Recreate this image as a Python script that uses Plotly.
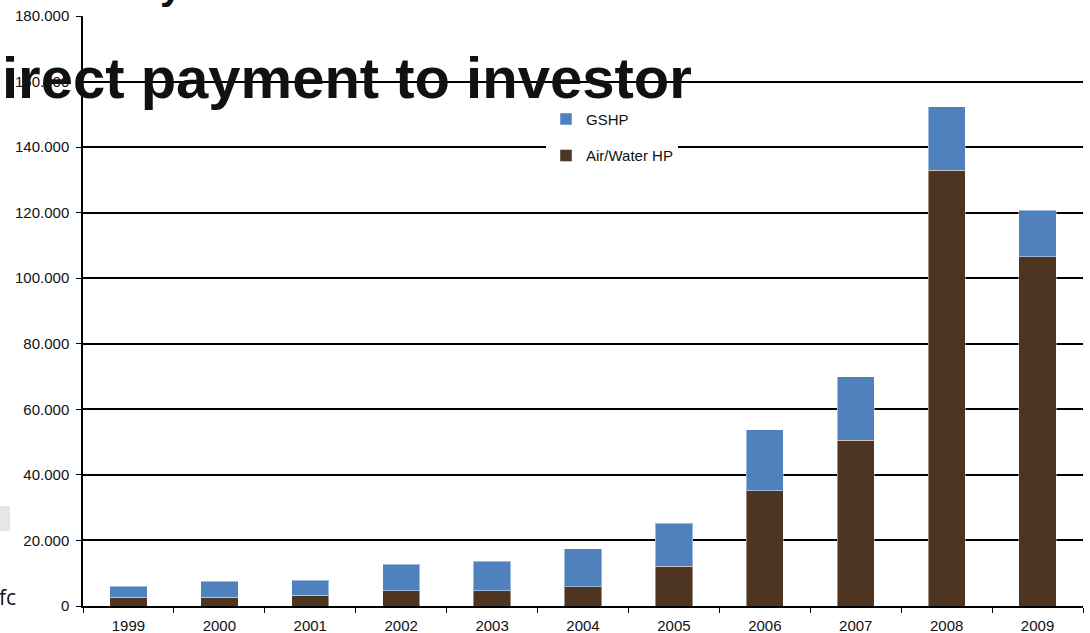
import plotly.graph_objects as go

years = ["1999", "2000", "2001", "2002", "2003", "2004", "2005", "2006", "2007", "2008", "2009"]
air_water = [2700, 2700, 3300, 4700, 4600, 5800, 12200, 35100, 50600, 132900, 106600]
total = [6100, 7500, 7900, 12700, 13700, 17400, 25300, 53700, 69900, 152300, 120800]
gshp = [t - a for t, a in zip(total, air_water)]
y_ticks = [0, 20000, 40000, 60000, 80000, 100000, 120000, 140000, 160000, 180000]

FONT = "Liberation Sans, Arial, Helvetica, sans-serif"

fig = go.Figure()
fig.add_trace(go.Bar(x=years, y=air_water, name="Air/Water HP", legendgroup="a", legendrank=2,
                     marker=dict(color="#4D3521", line=dict(color="rgba(255,255,255,0.45)", width=1))))
fig.add_trace(go.Bar(x=years, y=gshp, name="GSHP", legendgroup="b", legendrank=1,
                     marker=dict(color="#4F81BD", line=dict(color="rgba(255,255,255,0.45)", width=1))))

fig.update_layout(
    barmode="stack",
    bargap=0.59,
    width=1090, height=633,
    margin=dict(l=83, r=7, t=16, b=27, autoexpand=False),
    paper_bgcolor="white", plot_bgcolor="white",
    separators=",.",
    font=dict(family=FONT, size=15, color="#111111"),
    showlegend=True,
    legend=dict(x=0.463, y=0.853, xanchor="left", yanchor="top",
                bgcolor="white", traceorder="grouped", tracegroupgap=14,
                font=dict(size=15, color="#111111"), itemwidth=30),
    xaxis=dict(type="category", showline=True, linecolor="black", linewidth=1.5,
               ticks="outside", tickson="boundaries", ticklen=5, tickcolor="black",
               showgrid=False, tickfont=dict(size=15), ticklabelstandoff=5, automargin=False),
    yaxis=dict(range=[0, 180000], tickvals=y_ticks, tickformat=",d",
               showline=True, linecolor="black", linewidth=1.5,
               ticks="outside", ticklen=5, tickcolor="black",
               showgrid=True, gridcolor="black", gridwidth=1.5,
               zeroline=False, tickfont=dict(size=15), ticklabelstandoff=4, automargin=False),
)

fig.add_annotation(text="<b>irect payment to investor</b>", xref="paper", yref="paper",
                   x=-83/1000, y=(606-112)/590, xanchor="left", yanchor="bottom",
                   showarrow=False, font=dict(family=FONT, size=58, color="#111111"))
fig.add_annotation(text="<b>y</b>", xref="paper", yref="paper",
                   x=(158-83)/1000, y=(606-9)/590, xanchor="left", yanchor="bottom",
                   showarrow=False, font=dict(family=FONT, size=40, color="#111111"))
fig.add_annotation(text="fc", xref="paper", yref="paper", x=-86/1000, y=(606-613)/590,
                   xanchor="left", yanchor="bottom", showarrow=False,
                   font=dict(family="Open Sans, sans-serif", size=21, color="#111111"))
fig.add_shape(type="rect", xref="paper", yref="paper", x0=-83/1000, x1=-73/1000,
              y0=(606-531)/590, y1=(606-506)/590, fillcolor="#e6e6e6", line=dict(width=0), layer="below")

fig.write_html("out.html")
